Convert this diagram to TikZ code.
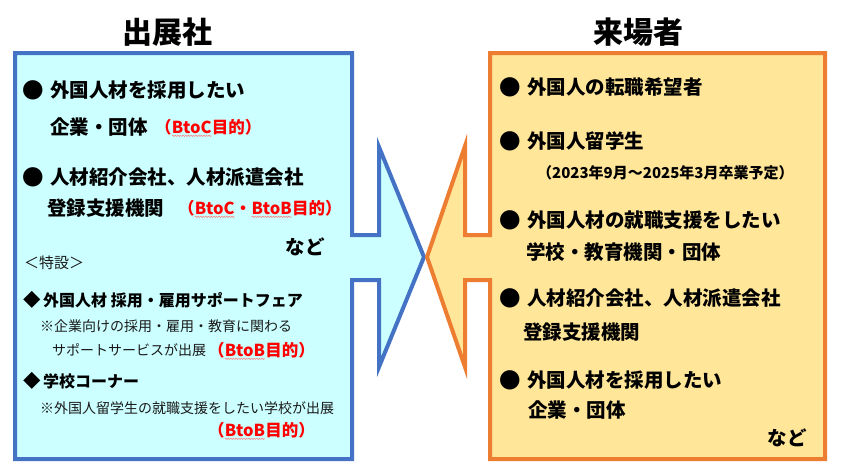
\documentclass[tikz,border=0pt]{standalone}
\usepackage{fontspec}
\setmainfont{Noto Sans CJK JP}
\usetikzlibrary{decorations.pathmorphing}
\definecolor{bluel}{HTML}{4472C4}
\definecolor{cyanf}{HTML}{CCFFFF}
\definecolor{orgl}{HTML}{ED7D31}
\definecolor{orgf}{HTML}{FFE699}
\definecolor{redt}{HTML}{FF0000}
\definecolor{grayt}{HTML}{1A1A1A}
\newcommand{\bul}{\makebox[27.5pt][l]{\raisebox{-0.6pt}{\fontsize{21.5}{22}\selectfont ●}}}
\newcommand{\dia}{\makebox[20pt][l]{\raisebox{-0.4pt}{\fontsize{17.5}{18}\selectfont ◆}}}
\newcommand{\sq}[1]{\tikz[baseline=(sqw.base)]{\node[inner sep=0pt,outer sep=0pt,anchor=base] (sqw) at (0,0) {#1};
  \draw[redt!55,line width=0.45pt,decorate,decoration={snake,amplitude=0.7pt,segment length=2.6pt}]
  ([yshift=-2.6pt]sqw.base west) -- ([yshift=-2.6pt]sqw.base east);}}
\begin{document}
\begin{tikzpicture}[x=1pt,y=-1pt,
  txt/.style={anchor=base west,inner sep=0pt,font=\fontsize{19.5}{20}\selectfont\bfseries},
  txte/.style={anchor=base east,inner sep=0pt,font=\fontsize{19.5}{20}\selectfont\bfseries},
  title/.style={anchor=base,inner sep=0pt,font=\fontsize{30}{32}\selectfont\bfseries},
  redtx/.style={anchor=base west,inner sep=0pt,text=redt,font=\fontsize{16.5}{17}\selectfont\bfseries},
  sub/.style={anchor=base west,inner sep=0pt,font=\fontsize{16}{17}\selectfont\bfseries},
  note/.style={anchor=base west,inner sep=0pt,text=grayt,font=\fontsize{14}{15}\selectfont},
  lshape/.style={draw=bluel,fill=cyanf,line width=4pt},
  rshape/.style={draw=orgl,fill=orgf,line width=4pt}]
\useasboundingbox (0,0) rectangle (841,472);
% shapes
\draw[lshape] (15,53) -- (352,53) -- (352,235) -- (379,235) -- (379,147) -- (424,257)
  -- (379,367) -- (379,280) -- (352,280) -- (352,459) -- (15,459) -- cycle;
\draw[rshape] (825,53) -- (490,53) -- (490,235) -- (465,235) -- (465,146) -- (427,257)
  -- (465,367) -- (465,280) -- (490,280) -- (490,459) -- (825,459) -- cycle;
% titles
\node[title] (t1) at (167,43.4) {出展社};
\node[title] (t2) at (638,43.4) {来場者};
% left
\node[txt] (l1) at (22.5,97.4) {\bul 外国人材を採用したい};
\node[txt] (l2) at (50,134.4) {企業・団体};
\node[redtx] (l2r) at (155,133.2) {（\sq{BtoC}目的）};
\node[txt] (l3) at (22.5,184.4) {\bul 人材紹介会社、人材派遣会社};
\node[txt] (l4) at (47,215.4) {登録支援機関};
\node[redtx] (l4r) at (178,214.2) {（\sq{BtoC}・\sq{BtoB}目的）};
\node[txte] (l5) at (325,254.4) {など};
\node[anchor=base west,inner sep=0pt,text=grayt,font=\fontsize{15}{16}\selectfont] (l6) at (24,268.8) {＜特設＞};
\node[sub] (l7) at (23,306) {\dia 外国人材 採用・雇用サポートフェア};
\node[note] (l8) at (40,331.3) {※企業向けの採用・雇用・教育に関わる};
\node[note] (l9) at (52,355.3) {サポートサービスが出展};
\node[redtx] (l9r) at (208,356.2) {（\sq{BtoB}目的）};
\node[sub] (l10) at (23,387) {\dia 学校コーナー};
\node[note] (l11) at (40,413.3) {※外国人留学生の就職支援をしたい学校が出展};
\node[redtx] (l12) at (208,436.2) {（\sq{BtoB}目的）};
% right
\node[txt] (r1) at (499.5,94.4) {\bul 外国人の転職希望者};
\node[txt] (r2) at (499.5,148.4) {\bul 外国人留学生};
\node[anchor=base west,inner sep=0pt,font=\fontsize{15}{16}\selectfont\bfseries] (r3) at (537,178.7) {（2023年9月～2025年3月卒業予定）};
\node[txt] (r4) at (499.5,227.4) {\bul 外国人材の就職支援をしたい};
\node[txt] (r5) at (526,259.4) {学校・教育機関・団体};
\node[txt] (r6) at (499.5,305.4) {\bul 人材紹介会社、人材派遣会社};
\node[txt] (r7) at (523,339.4) {登録支援機関};
\node[txt] (r8) at (499.5,387.4) {\bul 外国人材を採用したい};
\node[txt] (r9) at (528,417.4) {企業・団体};
\node[txte] (r10) at (807,445.4) {など};
\end{tikzpicture}
\end{document}
